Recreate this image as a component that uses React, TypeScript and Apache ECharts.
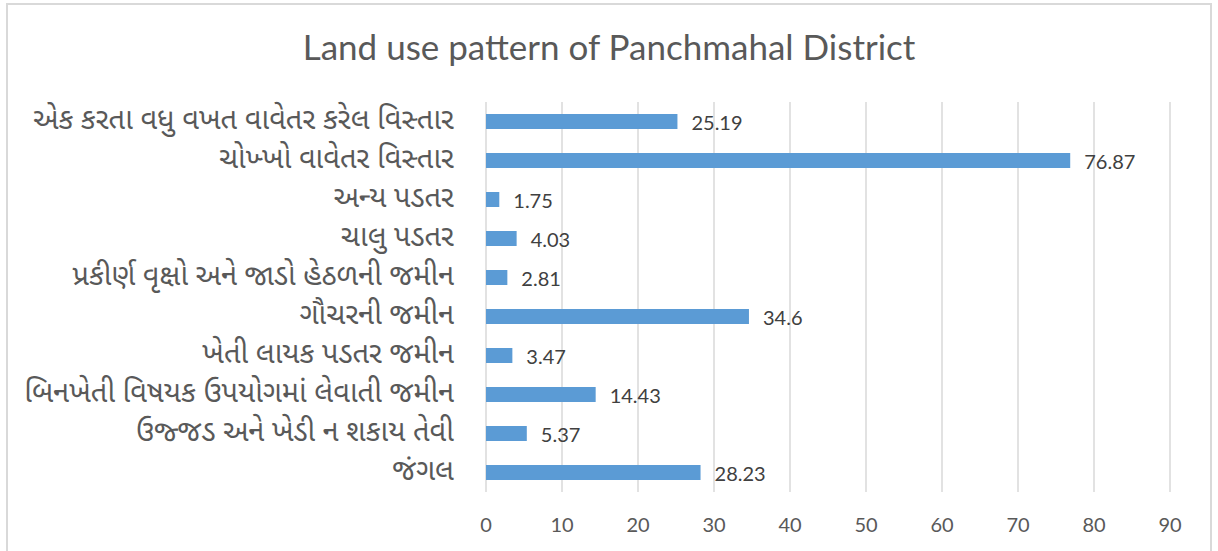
import React, { useEffect, useRef } from "react";
import * as echarts from "echarts";

const titleText = "Land use pattern of Panchmahal District";
const categories = [
  "જંગલ",
  "ઉજ્જડ અને ખેડી ન શકાય તેવી",
  "બિનખેતી વિષયક ઉપયોગમાં લેવાતી જમીન",
  "ખેતી લાયક પડતર જમીન",
  "ગૌચરની જમીન",
  "પ્રકીર્ણ વૃક્ષો અને જાડો હેઠળની જમીન",
  "ચાલુ પડતર",
  "અન્ય પડતર",
  "ચોખ્ખો વાવેતર વિસ્તાર",
  "એક કરતા વધુ વખત વાવેતર કરેલ વિસ્તાર",
];
const values = [28.23, 5.37, 14.43, 3.47, 34.6, 2.81, 4.03, 1.75, 76.87, 25.19];

export default function App() {
  const ref = useRef<HTMLDivElement>(null);
  useEffect(() => {
    if (!ref.current) return;
    const chart = echarts.init(ref.current, null, { renderer: "svg" });
    chart.setOption({
      animation: false,
      backgroundColor: "#ffffff",
      title: {
        text: titleText,
        left: "center",
        top: 23,
        textStyle: {
          fontFamily: "Lato, 'Open Sans', sans-serif",
          fontSize: 35,
          fontWeight: "normal",
          color: "#595959",
        },
      },
      graphic: [
        {
          type: "rect",
          shape: { x: 7, y: 4, width: 1204, height: 560 },
          style: { fill: "none", stroke: "#d9d9d9", lineWidth: 2 },
          silent: true,
        },
      ],
      grid: { left: 486, right: 48, top: 102, bottom: 59, containLabel: false },
      xAxis: {
        type: "value",
        min: 0,
        max: 90,
        interval: 10,
        axisLine: { show: false },
        axisTick: { show: false },
        splitLine: { show: true, lineStyle: { color: "#d9d9d9", width: 1.5 } },
        axisLabel: {
          margin: 22,
          fontFamily: "Lato, 'Open Sans', sans-serif",
          fontSize: 20,
          color: "#595959",
        },
      },
      yAxis: {
        type: "category",
        data: categories,
        axisLine: { show: false },
        axisTick: { show: false },
        axisLabel: {
          interval: 0,
          hideOverlap: false,
          margin: 32,
          fontFamily: "'Noto Sans Gujarati', 'Noto Sans', sans-serif",
          fontSize: 29,
          color: "#595959",
        },
      },
      series: [
        {
          type: "bar",
          data: values,
          barWidth: 15,
          itemStyle: { color: "#5b9bd5" },
          label: {
            show: true,
            position: "right",
            distance: 14,
            fontFamily: "Lato, 'Open Sans', sans-serif",
            fontSize: 20,
            color: "#404040",
          },
        },
      ],
    });
    return () => chart.dispose();
  }, []);
  return (
    <div
      ref={ref}
      style={{ position: "absolute", left: 0, top: 0, width: 1218, height: 551 }}
    />
  );
}
